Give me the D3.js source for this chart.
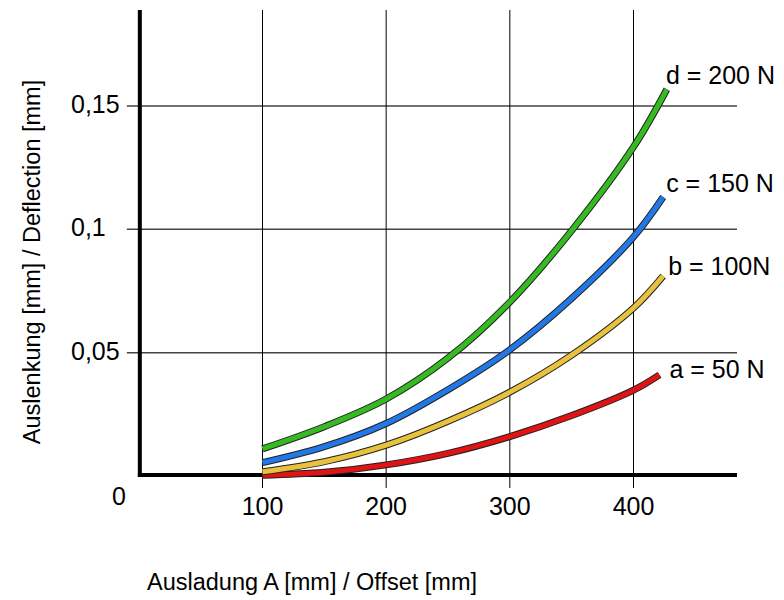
<!DOCTYPE html>
<html>
<head>
<meta charset="utf-8">
<script src="https://cdn.jsdelivr.net/npm/d3@7"></script>
<style>
  body { margin: 0; background: #fff; }
  svg text { font-family: "Liberation Sans", Arial, sans-serif; fill: #000; }
</style>
</head>
<body>
<svg id="chart" width="784" height="600"></svg>
<script>
// offset A [mm]
const offsets = [100, 150, 200, 250, 300, 350, 400];
// last point of each curve (curves stop a bit past 400)
const endOffsets = [421, 424, 424, 427];

// deflection [mm]
const seriesNames = ['a = 50 N', 'b = 100N', 'c = 150 N', 'd = 200 N'];
const deflA = [0.0003, 0.0015, 0.0045, 0.0092, 0.016, 0.0245, 0.0348, 0.041];
const deflB = [0.0017, 0.0058, 0.0125, 0.0222, 0.034, 0.049, 0.0681, 0.0811];
const deflC = [0.0054, 0.0119, 0.0213, 0.035, 0.0512, 0.072, 0.0969, 0.1131];
const deflD = [0.011, 0.020, 0.0312, 0.0478, 0.0705, 0.0995, 0.1334, 0.1568];

const xTicks = [100, 200, 300, 400];
const yTicks = [0.05, 0.1, 0.15];
const yTickLabels = ['0,05', '0,1', '0,15'];

const colors = ['#e01414', '#e8c23c', '#2278e6', '#36ba22'];
const labelDx = [10, 5, 3, -1];
const labelDy = [3, -1, -5, -5];

const svg = d3.select('#chart');

const x = d3.scaleLinear().domain([100, 400]).range([262.5, 633.5]);
const y = d3.scaleLinear().domain([0, 0.15]).range([476, 106]);

const xMax = x.invert(737);
const yMax = y.invert(10);

// horizontal grid
svg.append('g')
    .selectAll('line')
    .data(yTicks)
    .enter()
    .append('line')
        .attr('x1', x(0) - 12)
        .attr('x2', x(xMax))
        .attr('y1', d => y(d))
        .attr('y2', d => y(d))
        .style('stroke', '#444')
        .style('stroke-width', 1.5);

// vertical grid
svg.append('g')
    .selectAll('line')
    .data(xTicks)
    .enter()
    .append('line')
        .attr('x1', d => x(d))
        .attr('x2', d => x(d))
        .attr('y1', y(yMax))
        .attr('y2', y(0) + 12)
        .style('stroke', '#000')
        .style('stroke-width', 1);

// axes
svg.append('line')
    .attr('x1', x(0) + 1).attr('x2', x(0) + 1)
    .attr('y1', y(yMax)).attr('y2', y(0) + 1)
    .style('stroke', '#000').style('stroke-width', 4);
svg.append('line')
    .attr('x1', x(0) - 1).attr('x2', x(xMax))
    .attr('y1', y(0) - 1).attr('y2', y(0) - 1)
    .style('stroke', '#000').style('stroke-width', 4);

// tick labels
svg.append('g')
    .selectAll('text')
    .data(xTicks)
    .enter()
    .append('text')
        .attr('x', d => x(d))
        .attr('y', 515)
        .attr('text-anchor', 'middle')
        .style('font-size', '25px')
        .text(d => d);

svg.append('g')
    .selectAll('text')
    .data(yTicks)
    .enter()
    .append('text')
        .attr('x', 71)
        .attr('y', d => y(d) + 7)
        .style('font-size', '25px')
        .text((d, i) => yTickLabels[i]);

svg.append('text')
    .attr('x', 112)
    .attr('y', 505)
    .style('font-size', '25px')
    .text('0');

// curves
const allDefl = [deflA, deflB, deflC, deflD];
const series = allDefl.map((vals, i) => ({
    name: seriesNames[i],
    color: colors[i],
    dx: labelDx[i],
    dy: labelDy[i],
    points: vals.map((v, j) => [j < offsets.length ? offsets[j] : endOffsets[i], v])
}));

const line = d3.line()
    .x(d => x(d[0]))
    .y(d => y(d[1]))
    .curve(d3.curveCatmullRom.alpha(0.5));

const curves = svg.append('g');
series.forEach(s => {
    curves.append('path')
        .attr('d', line(s.points))
        .style('fill', 'none')
        .style('stroke', '#222')
        .style('stroke-width', 7);
    curves.append('path')
        .attr('d', line(s.points))
        .style('fill', 'none')
        .style('stroke', s.color)
        .style('stroke-width', 5);
});

svg.append('g')
    .selectAll('text')
    .data(series)
    .enter()
    .append('text')
        .attr('x', d => x(d.points[d.points.length - 1][0]) + d.dx)
        .attr('y', d => y(d.points[d.points.length - 1][1]) + d.dy)
        .style('font-size', '25px')
        .text(d => d.name);

// axis titles
svg.append('text')
    .attr('x', 312)
    .attr('y', 590)
    .attr('text-anchor', 'middle')
    .style('font-size', '23.5px')
    .text('Ausladung A [mm] / Offset [mm]');

svg.append('text')
    .attr('transform', 'translate(40, 262) rotate(-90)')
    .attr('text-anchor', 'middle')
    .style('font-size', '23.5px')
    .text('Auslenkung [mm] / Deflection [mm]');
</script>
</body>
</html>
